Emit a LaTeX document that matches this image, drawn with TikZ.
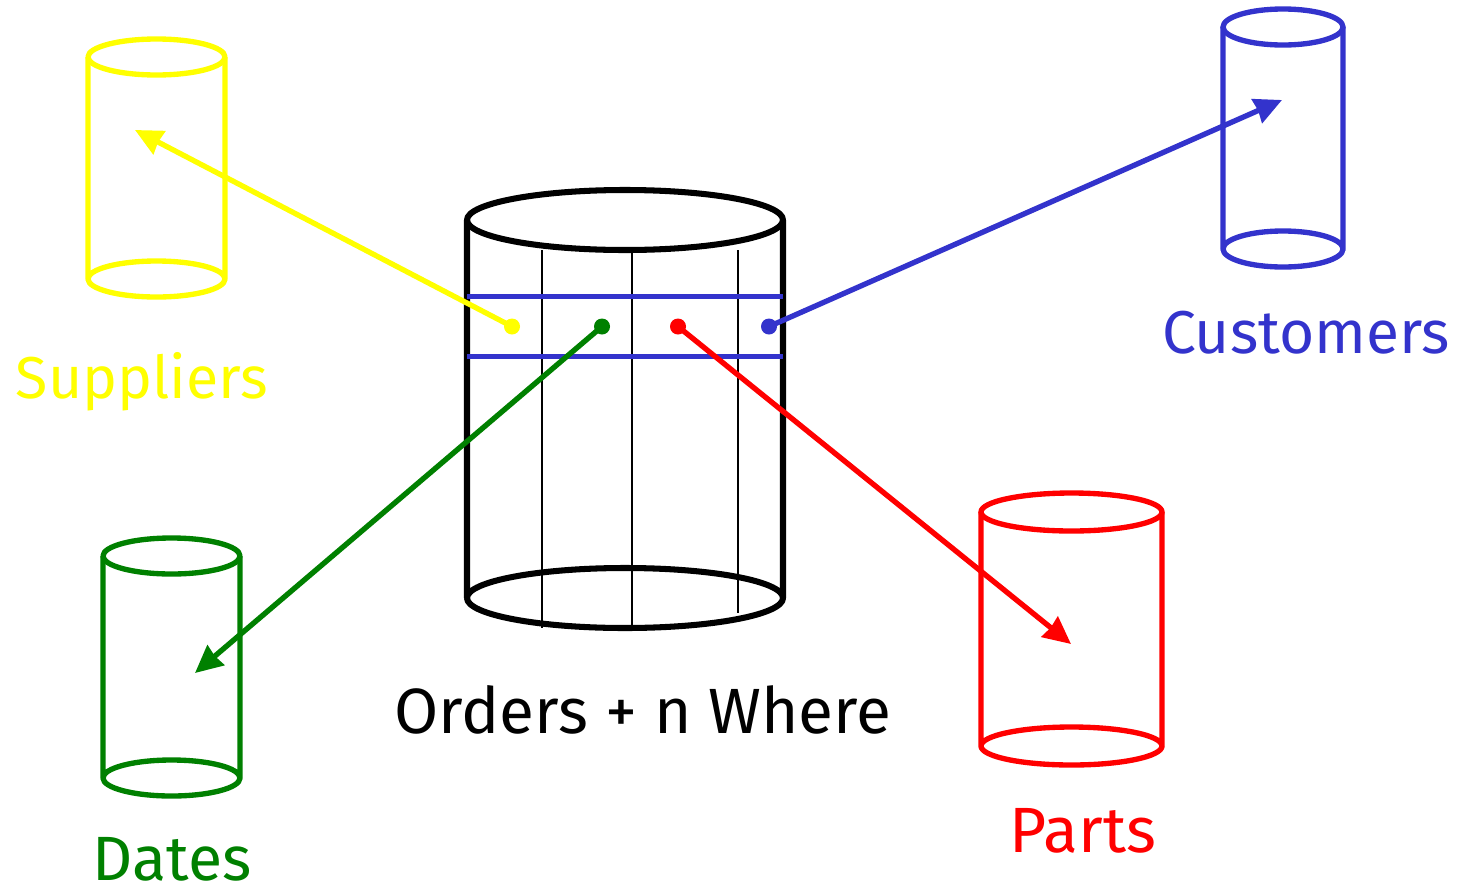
\documentclass[tikz,border=0pt]{standalone}
\usepackage{fontspec}
\setmainfont{Fira Sans}
\usetikzlibrary{arrows.meta}
\definecolor{cblue}{RGB}{51,51,204}
\definecolor{cgreen}{RGB}{0,128,0}
\definecolor{cyellow}{RGB}{255,255,0}
\definecolor{cred}{RGB}{255,0,0}
\tikzset{
  dimcyl/.style={line width=3.8pt,line join=round},
  factcyl/.style={line width=4.3pt,line join=round,black},
  column/.style={line width=2pt,black},
  rowline/.style={line width=3.8pt,cblue},
  keydot/.style={circle,inner sep=0pt,minimum size=0.4cm},
  fkey/.style={-{Stealth[length=0.68cm,width=0.64cm,inset=0.03cm]},line width=3.8pt},
  lab/.style={inner sep=0pt},
}
% cylinder: centre x, top y, bottom y, half width, half height of the ellipse, colour
\newcommand{\cyl}[6]{%
  \draw[dimcyl,#6] (#1,#2) ellipse [x radius=#4,y radius=#5];
  \draw[dimcyl,#6] (#1-#4,#2) -- (#1-#4,#3) arc [start angle=180,end angle=360,x radius=#4,y radius=#5] -- (#1+#4,#2);
  \draw[dimcyl,#6] (#1-#4,#3) arc [start angle=180,end angle=0,x radius=#4,y radius=#5];
}

\begin{document}
\begin{tikzpicture}[x=0.025cm,y=-0.025cm]
  \useasboundingbox (0,0) rectangle (1459,888);
  % dimensions
  \cyl{156.5}{57}{279}{68.5}{18}{cyellow}
  \cyl{1283}{27}{249}{60}{18}{cblue}
  \cyl{171.5}{556}{778}{68.5}{18}{cgreen}
  \cyl{1071.5}{512}{746}{90.5}{19}{cred}
  % fact table
  \draw[factcyl] (625,220) ellipse [x radius=158,y radius=30];
  \draw[factcyl] (467,220) -- (467,598) arc [start angle=180,end angle=360,x radius=158,y radius=30] -- (783,220);
  \draw[factcyl] (467,598) arc [start angle=180,end angle=0,x radius=158,y radius=30];
  \draw[column] (542,250) -- (542,628);
  \draw[column] (632,253) -- (632,630);
  \draw[column] (738,250) -- (738,613);
  \draw[rowline] (467,296.5) -- (783,296.5);
  \draw[rowline] (467,356.5) -- (783,356.5);
  % keys
  \node[keydot,fill=cyellow] (suppkey) at (512,326.5) {};
  \node[keydot,fill=cgreen] (datekey) at (602,326.5) {};
  \node[keydot,fill=cred] (partkey) at (678,326.5) {};
  \node[keydot,fill=cblue] (custkey) at (769,326.5) {};
  \coordinate (supp) at (135,130);
  \coordinate (date) at (195,673);
  \coordinate (part) at (1071,644);
  \coordinate (cust) at (1282,100);
  \draw[fkey,cyellow] (suppkey.center) -- (supp);
  \draw[fkey,cgreen] (datekey.center) -- (date);
  \draw[fkey,cred] (partkey.center) -- (part);
  \draw[fkey,cblue] (custkey.center) -- (cust);
  % labels
  \node[lab,cyellow,font=\fontsize{42}{48}\selectfont] (supplabel) at (142,382) {Suppliers};
  \node[lab,cblue,font=\fontsize{43}{48}\selectfont] (custlabel) at (1306,333) {Customers};
  \node[lab,black,font=\fontsize{45.5}{50}\selectfont] (factlabel) at (643,710) {Orders + n Where};
  \node[lab,cred,font=\fontsize{45.5}{50}\selectfont] (partlabel) at (1083,831) {Parts};
  \node[lab,cgreen,font=\fontsize{44.5}{50}\selectfont] (datelabel) at (172,859) {Dates};
\end{tikzpicture}
\end{document}
